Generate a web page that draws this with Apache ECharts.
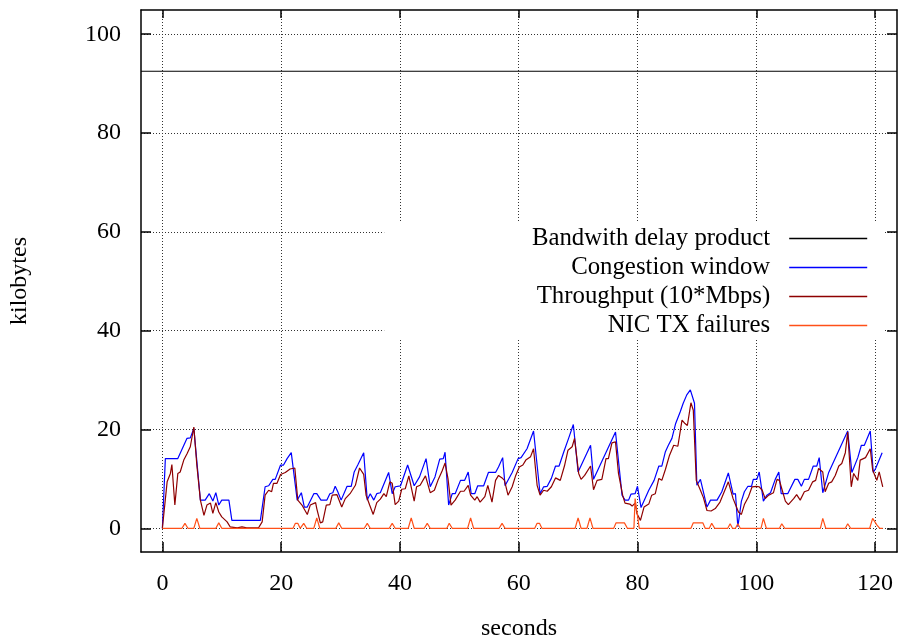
<!DOCTYPE html>
<html>
<head>
<meta charset="utf-8">
<script src="https://cdn.jsdelivr.net/npm/echarts@6/dist/echarts.min.js"></script>
<style>
  html, body { margin: 0; padding: 0; background: #fff; }
  #chart { width: 904px; height: 639px; }
</style>
</head>
<body>
<div id="chart"></div>
<script>
// Axis ranges and tick positions
const xMin = -3.6, xMax = 123.7;
const yMin = -4.8, yMax = 104.9;
const xTicks = [0, 20, 40, 60, 80, 100, 120];
const yTicks = [0, 20, 40, 60, 80, 100];

// Bandwidth delay product (kilobytes), constant over the run
const bdpValue = 92.5;

// Congestion window: sample times (s) and values (kB)
const cwndT = [0, 0.5, 2.6, 4.15, 4.7, 5.3, 6.4, 7.2, 7.9, 8.5, 9.0, 9.5, 10.0, 11.2, 11.7, 16.5, 17.3, 17.9, 18.6, 19.0,
  19.9, 20.4, 21.0, 21.7, 22.7, 23.4, 23.9, 24.4, 25.5, 26.0, 26.7, 27.7, 28.2, 28.7, 29.1, 29.5, 30.1, 31.1, 31.8, 32.3,
  32.9, 33.9, 34.5, 35.0, 35.6, 36.1, 36.7, 38.1, 38.7, 39.2, 40.1, 41.3, 42.4, 43.3, 44.4, 45.1, 45.9, 46.7, 47.3, 47.6,
  48.2, 48.8, 49.3, 50.2, 50.9, 51.5, 52.0, 52.6, 53.1, 54.1, 54.9, 56.1, 56.6, 57.3, 57.7, 58.9, 59.9, 60.4, 61.4, 62.5,
  63.6, 64.2, 64.8, 65.5, 66.2, 66.8, 67.6, 68.4, 69.2, 70.0, 72.1, 72.6, 76.3, 77.4, 77.9, 78.5, 78.9, 79.6, 80.0, 80.6,
  81.9, 82.8, 83.6, 84.1, 84.7, 85.2, 85.8, 86.4, 87.2, 87.7, 88.3, 88.9, 89.6, 90.0, 90.6, 91.7, 92.3, 93.4, 94.2, 95.3,
  96.1, 96.5, 96.9, 97.5, 98.0, 98.6, 99.2, 99.5, 100.1, 100.5, 101.2, 101.8, 102.4, 103.2, 103.8, 104.2, 105.3, 106.5, 107.0, 107.6,
  108.1, 108.8, 109.6, 110.2, 110.6, 111.2, 112.2, 115.4, 116.1, 117.1, 117.7, 118.2, 119.2, 119.7, 120.1, 121.2];
const cwndV = [0, 14.1, 14.1, 18.2, 18.3, 20.2, 5.7, 5.7, 7.0, 5.5, 7.2, 4.7, 5.7, 5.7, 1.6, 1.6, 8.4, 8.6, 9.9, 9.9,
  12.8, 12.8, 14.1, 15.3, 5.7, 7.2, 4.3, 4.3, 7.0, 7.0, 5.7, 5.7, 7.0, 7.2, 8.5, 7.5, 5.7, 8.5, 8.5, 11.4,
  12.8, 15.3, 5.7, 7.0, 5.7, 7.0, 7.2, 11.3, 7.0, 8.4, 8.6, 12.8, 8.6, 10.4, 14.1, 8.4, 10.4, 14.0, 14.1, 15.4,
  4.7, 7.0, 7.0, 9.7, 9.7, 11.4, 7.0, 7.0, 8.6, 8.6, 11.3, 11.3, 12.4, 14.3, 8.6, 11.3, 14.1, 14.3, 16.1, 19.7,
  7.0, 8.4, 8.5, 10.1, 12.6, 12.6, 15.5, 18.2, 21.0, 11.4, 16.8, 9.9, 19.5, 6.7, 5.7, 5.7, 6.9, 7.0, 8.5, 4.2,
  7.7, 9.7, 12.6, 12.6, 15.5, 16.8, 18.2, 21.1, 23.6, 25.3, 27.0, 28.0, 25.3, 8.7, 9.9, 4.3, 5.7, 5.7, 7.4, 11.2,
  6.9, 7.0, 0.3, 5.5, 7.4, 8.5, 8.5, 9.9, 9.9, 11.4, 5.5, 6.7, 7.2, 9.9, 11.4, 7.0, 7.0, 9.9, 9.9, 8.5,
  9.9, 9.9, 12.6, 12.6, 14.3, 7.2, 11.3, 19.7, 11.3, 14.3, 16.8, 16.8, 19.7, 11.3, 12.1, 15.3];

// Throughput (10*Mbps): sample times (s) and values
const tputT = [0, 0.8, 1.35, 1.6, 2.1, 2.6, 3.0, 3.6, 4.15, 4.7, 5.3, 5.8, 6.4, 7.0, 7.5, 8.1, 8.5, 9.0, 9.5, 10.0,
  10.9, 11.4, 12.6, 13.4, 14.2, 16.2, 16.8, 17.3, 17.9, 18.4, 18.7, 19.3, 19.9, 20.7, 21.5, 22.3, 22.8, 23.5, 24.4, 24.9,
  25.8, 26.0, 26.6, 27.0, 27.6, 28.2, 28.6, 29.4, 30.2, 30.8, 31.6, 32.5, 33.2, 33.9, 34.3, 34.9, 35.5, 36.1, 36.7, 37.3,
  37.7, 38.3, 38.7, 39.2, 39.8, 40.3, 40.9, 41.5, 42.4, 42.8, 43.4, 44.3, 45.1, 45.8, 46.4, 47.1, 47.6, 48.1, 48.6, 49.3,
  50.2, 50.8, 51.5, 51.9, 52.6, 53.0, 53.5, 54.3, 54.8, 55.5, 56.1, 56.6, 57.2, 57.6, 58.2, 58.9, 59.5, 60.1, 60.7, 61.2,
  62.0, 62.5, 63.1, 63.6, 64.2, 64.8, 65.5, 66.2, 67.0, 67.7, 68.3, 69.0, 69.4, 70.1, 70.5, 71.1, 72.1, 72.6, 73.2, 74.0,
  74.7, 75.1, 75.7, 76.3, 76.8, 77.5, 77.9, 78.7, 79.1, 79.6, 79.9, 80.5, 81.1, 81.9, 82.4, 83.0, 83.6, 84.1, 84.7, 85.4,
  86.1, 86.8, 87.5, 88.0, 88.4, 89.0, 89.4, 89.9, 90.6, 91.1, 91.7, 92.4, 93.1, 93.9, 95.3, 96.1, 96.7, 97.0, 97.5, 98.0,
  98.7, 99.3, 100.0, 100.5, 101.0, 101.5, 102.1, 102.9, 103.5, 103.9, 104.3, 104.9, 105.4, 106.3, 106.8, 107.4, 108.1, 108.8, 109.5, 110.0,
  110.5, 111.2, 111.6, 112.2, 112.7, 113.3, 113.9, 114.4, 115.0, 115.4, 116.0, 116.4, 117.1, 117.5, 118.4, 119.2, 119.6, 120.3, 120.7, 121.3];
const tputV = [0, 9.4, 11.1, 12.9, 4.7, 11.1, 11.4, 13.8, 15.1, 16.5, 20.5, 12.8, 5.7, 2.6, 4.7, 5.1, 3.0, 5.2, 3.3, 2.3,
  1.3, 0.3, 0.1, 0.3, 0.1, 0.1, 1.3, 6.7, 7.7, 7.4, 9.1, 9.1, 10.9, 11.3, 12.0, 12.2, 5.7, 4.7, 2.8, 4.7,
  5.2, 4.0, 1.1, 1.3, 4.7, 4.8, 6.7, 6.8, 4.3, 6.0, 7.0, 8.7, 12.2, 10.9, 6.7, 4.7, 2.8, 5.2, 5.9, 7.0,
  6.4, 9.4, 9.1, 4.8, 5.5, 7.9, 8.0, 10.6, 5.5, 8.4, 8.7, 10.6, 7.2, 7.7, 9.7, 11.6, 13.2, 10.0, 4.7, 5.7,
  7.5, 7.5, 8.7, 6.7, 5.7, 6.4, 5.3, 6.4, 8.7, 5.3, 9.7, 10.7, 10.2, 9.7, 6.7, 8.4, 10.7, 12.4, 12.8, 13.8,
  14.5, 16.1, 8.7, 6.7, 7.7, 7.5, 8.4, 10.2, 9.7, 12.6, 15.8, 16.5, 18.2, 11.1, 9.9, 10.7, 12.6, 7.8, 9.7, 9.9,
  14.1, 14.1, 17.3, 17.5, 11.1, 6.7, 5.1, 4.9, 4.5, 5.1, 3.0, 1.6, 4.3, 4.9, 6.7, 7.0, 10.1, 9.7, 11.9, 14.8,
  16.8, 16.6, 21.9, 21.2, 20.8, 25.4, 23.9, 9.7, 7.7, 6.2, 3.6, 3.5, 4.0, 5.3, 9.4, 6.0, 4.2, 3.3, 2.8, 4.8,
  6.4, 8.4, 8.5, 8.4, 7.7, 6.0, 6.7, 7.2, 9.9, 9.7, 8.0, 5.5, 4.8, 6.0, 6.8, 5.7, 7.4, 7.7, 9.4, 9.7,
  12.1, 11.4, 7.4, 9.1, 9.4, 10.7, 12.6, 13.1, 15.3, 19.5, 8.4, 11.1, 9.7, 13.8, 14.3, 16.1, 11.8, 9.7, 11.4, 8.4];

// NIC TX failures: sample times (s) and counts
const nicT = [0, 3.3, 3.8, 4.3, 5.3, 5.8, 6.3, 9.0, 9.5, 10.0, 22.0, 22.4, 22.8, 23.2, 23.8, 24.3, 25.5, 26.0, 26.5, 29.2,
  29.7, 30.2, 34.0, 34.5, 35.0, 38.2, 38.7, 39.2, 41.4, 41.9, 42.4, 44.1, 44.6, 45.1, 47.9, 48.3, 48.8, 51.4, 51.9, 52.4,
  56.7, 57.2, 57.7, 62.7, 63.1, 63.5, 63.9, 69.5, 70.0, 70.5, 71.5, 72.0, 72.5, 76.0, 76.4, 77.8, 78.3, 79.4, 79.6, 79.9,
  80.3, 89.0, 89.4, 91.0, 91.4, 92.1, 92.5, 93.0, 95.2, 95.6, 96.0, 96.5, 96.9, 97.3, 100.8, 101.2, 101.7, 103.9, 104.3, 104.8,
  110.8, 111.2, 111.7, 115.0, 115.4, 115.9, 119.1, 119.6, 120.3, 120.8, 121.3];
const nicV = [0, 0, 1.0, 0, 0, 2.0, 0, 0, 1.1, 0, 0, 1.0, 1.0, 0, 1.0, 0, 0, 2.1, 0, 0,
  1.1, 0, 0, 1.0, 0, 0, 1.0, 0, 0, 2.1, 0, 0, 1.0, 0, 0, 1.0, 0, 0, 2.1, 0,
  0, 1.0, 0, 0, 1.0, 1.0, 0, 0, 2.1, 0, 0, 2.1, 0, 0, 1.1, 1.1, 0, 0, 6.0, 5.8,
  0, 0, 1.1, 1.1, 0, 0, 1.0, 0, 0, 0.9, 0, 0, 0.9, 0, 0, 2.0, 0, 0, 0.9, 0,
  0, 2.0, 0, 0, 0.9, 0, 0, 2.0, 0.7, 0, 0];

const names = ['Bandwith delay product', 'Congestion window', 'Throughput (10*Mbps)', 'NIC TX failures'];
const colors = ['#000000', '#0000ff', '#8e0000', '#ff5018'];

const zip = (ts, vs) => ts.map((t, i) => [t, vs[i]]);
const font = '"Liberation Serif", "DejaVu Serif", serif';
const fontSize = 24;
const gridDots = { color: '#333', width: 1, type: [1, 2] };
const frame = { color: '#000', width: 1.5 };

const chart = echarts.init(document.getElementById('chart'), null, { renderer: 'canvas' });

function lineSeries(i, data) {
  return {
    name: names[i], type: 'line', data: data, symbol: 'none', silent: true,
    color: colors[i], lineStyle: { color: colors[i], width: 1.2 }, z: 2 + i
  };
}

chart.setOption({
  animation: false,
  backgroundColor: '#fff',
  grid: { left: 141, right: 7, top: 10, bottom: 87, show: false, containLabel: false, outerBoundsMode: 'none' },
  xAxis: [{
    type: 'value', min: xMin, max: xMax, position: 'bottom',
    name: 'seconds', nameLocation: 'middle', nameGap: 65,
    nameTextStyle: { fontFamily: font, fontSize: fontSize, color: '#000', verticalAlign: 'top' },
    axisLine: { show: true, onZero: false, lineStyle: frame },
    axisTick: { show: true, inside: true, length: 10, customValues: xTicks, lineStyle: frame },
    axisLabel: { customValues: xTicks, margin: 20, fontFamily: font, fontSize: fontSize, color: '#000' },
    splitLine: { show: true, lineStyle: gridDots }
  }, {
    type: 'value', min: xMin, max: xMax, position: 'top',
    axisLine: { show: true, onZero: false, lineStyle: frame },
    axisTick: { show: true, inside: true, length: 8, customValues: xTicks, lineStyle: frame },
    axisLabel: { show: false }, splitLine: { show: false }
  }],
  yAxis: [{
    type: 'value', min: yMin, max: yMax, position: 'left',
    name: 'kilobytes', nameLocation: 'middle', nameGap: 109, nameRotate: 90,
    nameTextStyle: { fontFamily: font, fontSize: fontSize, color: '#000' },
    axisLine: { show: true, onZero: false, lineStyle: frame },
    axisTick: { show: true, inside: true, length: 10, customValues: yTicks, lineStyle: frame },
    axisLabel: { customValues: yTicks, margin: 20, fontFamily: font, fontSize: fontSize, color: '#000' },
    splitLine: { show: true, lineStyle: gridDots }
  }, {
    type: 'value', min: yMin, max: yMax, position: 'right',
    axisLine: { show: true, onZero: false, lineStyle: frame },
    axisTick: { show: true, inside: true, length: 10, customValues: yTicks, lineStyle: frame },
    axisLabel: { show: false }, splitLine: { show: false }
  }],
  legend: {
    orient: 'vertical', align: 'right', right: 19, top: 222,
    padding: [4, 17, 1, 0], backgroundColor: '#fff',
    itemWidth: 78, itemHeight: 15, itemGap: 4,
    itemStyle: { opacity: 0 },
    lineStyle: { width: 1.6 },
    selectedMode: false,
    data: names,
    textStyle: { fontFamily: font, fontSize: 24.8, color: '#000', lineHeight: 25, width: 386, align: 'right', padding: [0, 14, 0, 0] }
  },
  series: [
    lineSeries(0, [[xMin, bdpValue], [xMax, bdpValue]]),
    lineSeries(1, zip(cwndT, cwndV)),
    lineSeries(2, zip(tputT, tputV)),
    lineSeries(3, zip(nicT, nicV))
  ]
});
</script>
</body>
</html>
